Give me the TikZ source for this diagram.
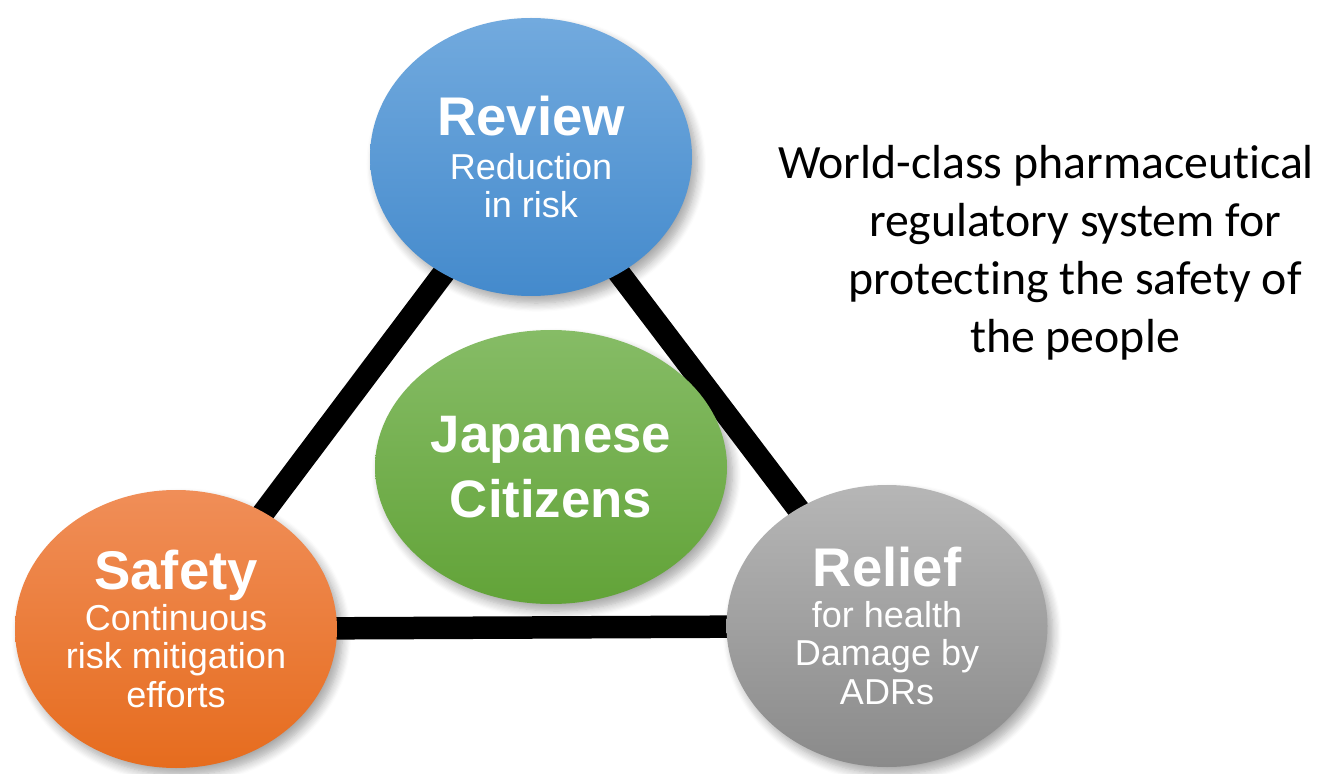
\documentclass[tikz,border=0pt]{standalone}
\usepackage{fontspec}
\setmainfont{Liberation Sans}
\newfontfamily\calibri[Ligatures=NoCommon]{Carlito}
\usepackage{xcolor}
\usetikzlibrary{shapes.geometric, shadows.blur, backgrounds}
\definecolor{revtop}{RGB}{114,170,222}
\definecolor{revbot}{RGB}{68,138,204}
\definecolor{saftop}{RGB}{240,142,88}
\definecolor{safbot}{RGB}{230,108,30}
\definecolor{reltop}{RGB}{182,182,182}
\definecolor{relbot}{RGB}{138,138,138}
\definecolor{citop}{RGB}{134,188,102}
\definecolor{cibot}{RGB}{98,163,56}
\tikzset{
    pillar/.style={ellipse, draw=none, align=center, text=white,
                   inner sep=0pt, font=\fontsize{20.5}{22}\selectfont,
                   blur shadow={shadow xshift=3pt, shadow yshift=-4pt,
                                shadow blur radius=5pt, shadow blur steps=8,
                                shadow opacity=35}},
    rbox/.style={pillar, minimum width=6.44cm, minimum height=5.56cm,
                 top color=revtop, bottom color=revbot},
    sbox/.style={pillar, minimum width=6.44cm, minimum height=5.56cm,
                 top color=saftop, bottom color=safbot},
    lbox/.style={pillar, minimum width=6.42cm, minimum height=5.64cm,
                 top color=reltop, bottom color=relbot},
    cbox/.style={pillar, minimum width=7.04cm, minimum height=5.48cm,
                 top color=citop, bottom color=cibot,
                 font=\fontsize{30}{37}\selectfont\bfseries},
    note/.style={align=center, inner sep=0pt,
                 font=\calibri\fontsize{27.2}{33}\selectfont},
    link/.style={line width=0.45cm, draw=black}
}
\newcommand{\pillarname}[1]{{\fontsize{31}{34}\selectfont\bfseries #1}}

\begin{document}
\begin{tikzpicture}
\useasboundingbox (0,0) rectangle (26.52,15.46);

% ── Three pillars ─────────────────────────────────────────────────────
\node[rbox] at (10.62,12.32) (review) {\pillarname{Review}\\[3pt]Reduction\\in risk};
\node[sbox] at (3.52, 2.88)  (safety) {\pillarname{Safety}\\[1pt]Continuous\\risk mitigation\\efforts};
\node[lbox] at (17.74,2.94)  (relief) {\pillarname{Relief}\\[1pt]for health\\Damage by\\ADRs};

% ── Centre ────────────────────────────────────────────────────────────
\node[cbox] at (11.02,6.12) (citizens) {Japanese\\Citizens};

% ── Statement ─────────────────────────────────────────────────────────
\node[note] at (21.5,10.4) (slogan) {World-class pharmaceutical\kern1.16cm\\regulatory system for\\protecting the safety of\\the people};

% ── Triangle ──────────────────────────────────────────────────────────
\begin{scope}[on background layer]
\draw[link] (review.center) -- (safety.center);
\draw[link] (review.center) -- (relief.center);
\draw[link] (safety.center) -- (relief.center);
\end{scope}
\end{tikzpicture}
\end{document}
